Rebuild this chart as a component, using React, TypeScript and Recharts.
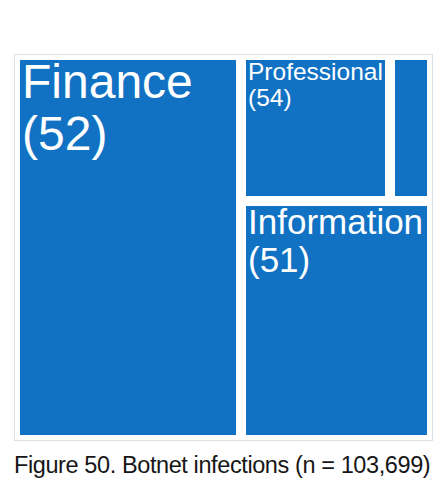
import { Treemap } from 'recharts'

const sectors = ['Finance', 'Professional', 'Other', 'Information']
const infections = [56184, 14041, 3930, 29544]
const shownValues = [52, 54, null, 51]

const BLUE = '#1172c4'
const LABEL_SIZE: Record<string, number> = { Finance: 48, Professional: 24.5, Information: 35 }

const data = sectors.map((name, i) => ({ name, size: infections[i], shown: shownValues[i] }))

function CellShape(props: any) {
  const { x, y, width, height, depth, name, shown } = props
  if (depth !== 1) return null
  const fs = LABEL_SIZE[name]
  return (
    <g>
      <rect x={x} y={y} width={width} height={height} fill={BLUE} stroke="#fff" strokeWidth={10} />
      {fs && shown != null && (
        <text x={x + 7} y={y + 5 + fs * 0.8} fill="#fff" fontSize={fs} fontFamily="'Liberation Sans', Arial, sans-serif">
          <tspan x={x + 7}>{name}</tspan>
          <tspan x={x + 7} dy={fs * 1.08}>({shown})</tspan>
        </text>
      )}
    </g>
  )
}

export default function App() {
  return (
    <div style={{ position: 'absolute', left: 0, top: 0, width: 447, height: 491, background: '#fff' }}>
      <div style={{ position: 'absolute', left: 14, top: 54, width: 417, height: 385, border: '1px solid #d8e0e8' }}>
        <Treemap
          width={417}
          height={385}
          data={data}
          dataKey="size"
          nameKey="name"
          aspectRatio={1.455}
          isAnimationActive={false}
          content={(p: any) => <CellShape {...p} />}
        />
      </div>
      <div style={{
        position: 'absolute', left: 14, top: 451, fontSize: 23.5, lineHeight: '28px',
        letterSpacing: -0.4, color: '#161616', fontFamily: "'Liberation Sans', Arial, sans-serif", whiteSpace: 'nowrap',
      }}>
        Figure 50. Botnet infections (n = 103,699)
      </div>
    </div>
  )
}
